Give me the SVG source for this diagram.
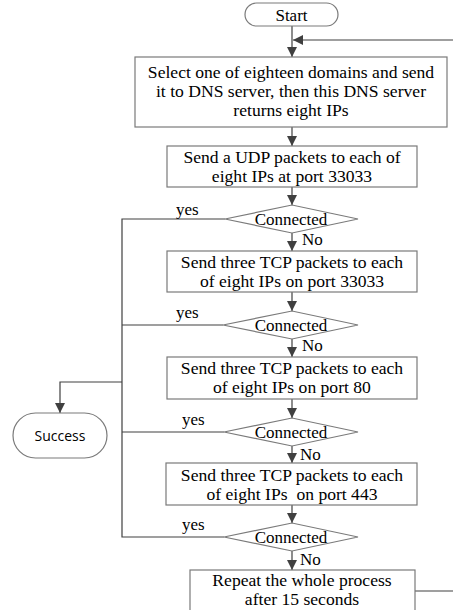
<svg xmlns="http://www.w3.org/2000/svg" width="453" height="610" viewBox="0 0 453 610">
<defs>
<marker id="ah" viewBox="0 0 10 10" refX="10" refY="5" markerWidth="10" markerHeight="10" markerUnits="userSpaceOnUse" orient="auto">
<path d="M0,0 L10,5 L0,10 z" fill="#404040"/>
</marker>
</defs>
<style>
.box{fill:#fff;stroke:#7a7a7a;stroke-width:1.2}
.ln{fill:none;stroke:#404040;stroke-width:1.2}
.t{font-family:'Liberation Serif','DejaVu Serif',serif;font-size:17px;fill:#000}
.w{font-size:17.6px}
.c{text-anchor:middle}
.s{font-family:'Open Sans','Noto Sans',sans-serif;font-size:14px;fill:#000;text-anchor:middle}
</style>
<rect width="453" height="610" fill="#fff"/>
<g id="connectors">
<line class="ln" x1="292" y1="26" x2="292" y2="57" marker-end="url(#ah)"/>
<line class="ln" x1="453" y1="40" x2="293" y2="40" marker-end="url(#ah)"/>
<line class="ln" x1="292" y1="127" x2="292" y2="146" marker-end="url(#ah)"/>
<line class="ln" x1="292" y1="187" x2="292" y2="205" marker-end="url(#ah)"/>
<line class="ln" x1="292" y1="233" x2="292" y2="251" marker-end="url(#ah)"/>
<line class="ln" x1="292" y1="292" x2="292" y2="311" marker-end="url(#ah)"/>
<line class="ln" x1="292" y1="339" x2="292" y2="357" marker-end="url(#ah)"/>
<line class="ln" x1="292" y1="399" x2="292" y2="418" marker-end="url(#ah)"/>
<line class="ln" x1="292" y1="446" x2="292" y2="463" marker-end="url(#ah)"/>
<line class="ln" x1="292" y1="505" x2="292" y2="523" marker-end="url(#ah)"/>
<line class="ln" x1="292" y1="551" x2="292" y2="570" marker-end="url(#ah)"/>
<polyline class="ln" points="225,219 122,219 122,537 224,537"/>
<line class="ln" x1="223" y1="325" x2="122" y2="325"/>
<line class="ln" x1="224" y1="432" x2="122" y2="432"/>
<polyline class="ln" points="122,382 60,382 60,413" marker-end="url(#ah)"/>
<line class="ln" x1="415" y1="591" x2="453" y2="591"/>
<text class="t" x="176" y="215">yes</text>
<text class="t" x="176" y="318">yes</text>
<text class="t" x="182" y="425">yes</text>
<text class="t" x="182" y="530">yes</text>
<text class="t" x="302" y="245">No</text>
<text class="t" x="302" y="351">No</text>
<text class="t" x="300" y="460">No</text>
<text class="t" x="300" y="565">No</text>
</g>
<g id="start">
<rect class="box" x="245" y="3" width="93" height="23" rx="11.5"/>
<text class="t c" x="291.5" y="21">Start</text>
</g>
<g id="select">
<rect class="box" x="135" y="57" width="312" height="70"/>
<text class="t w c" x="291" y="78">Select one of eighteen domains and send</text>
<text class="t w c" x="291" y="97">it to DNS server, then this DNS server</text>
<text class="t w c" x="291" y="116">returns eight IPs</text>
</g>
<g id="udp">
<rect class="box" x="167" y="146" width="250" height="41"/>
<text class="t w c" x="292" y="163">Send a UDP packets to each of</text>
<text class="t w c" x="292" y="182">eight IPs at port 33033</text>
</g>
<g id="dec1">
<polygon class="box" points="225,219 292,205 358,219 292,233"/>
<text class="t c" x="291" y="225">Connected</text>
</g>
<g id="tcp33033">
<rect class="box" x="167" y="251" width="250" height="41"/>
<text class="t w c" x="292" y="268">Send three TCP packets to each</text>
<text class="t w c" x="292" y="287">of eight IPs on port 33033</text>
</g>
<g id="dec2">
<polygon class="box" points="223,325 292,311 358,325 292,339"/>
<text class="t c" x="291" y="331">Connected</text>
</g>
<g id="tcp80">
<rect class="box" x="167" y="357" width="250" height="42"/>
<text class="t w c" x="292" y="374">Send three TCP packets to each</text>
<text class="t w c" x="292" y="393">of eight IPs on port 80</text>
</g>
<g id="dec3">
<polygon class="box" points="224,432 292,418 358,432 292,446"/>
<text class="t c" x="291" y="438">Connected</text>
</g>
<g id="tcp443">
<rect class="box" x="166" y="463" width="251" height="42"/>
<text class="t w c" x="292" y="481">Send three TCP packets to each</text>
<text class="t w c" x="292" y="500" xml:space="preserve">of eight IPs  on port 443</text>
</g>
<g id="dec4">
<polygon class="box" points="224,537 292,523 358,537 292,551"/>
<text class="t c" x="291" y="543">Connected</text>
</g>
<g id="repeat">
<rect class="box" x="190" y="570" width="225" height="45"/>
<text class="t w c" x="302" y="586">Repeat the whole process</text>
<text class="t w c" x="302" y="605">after 15 seconds</text>
</g>
<g id="success">
<rect class="box" x="13" y="413" width="94" height="45" rx="22.5"/>
<text class="s" x="60" y="441">Success</text>
</g>
</svg>
